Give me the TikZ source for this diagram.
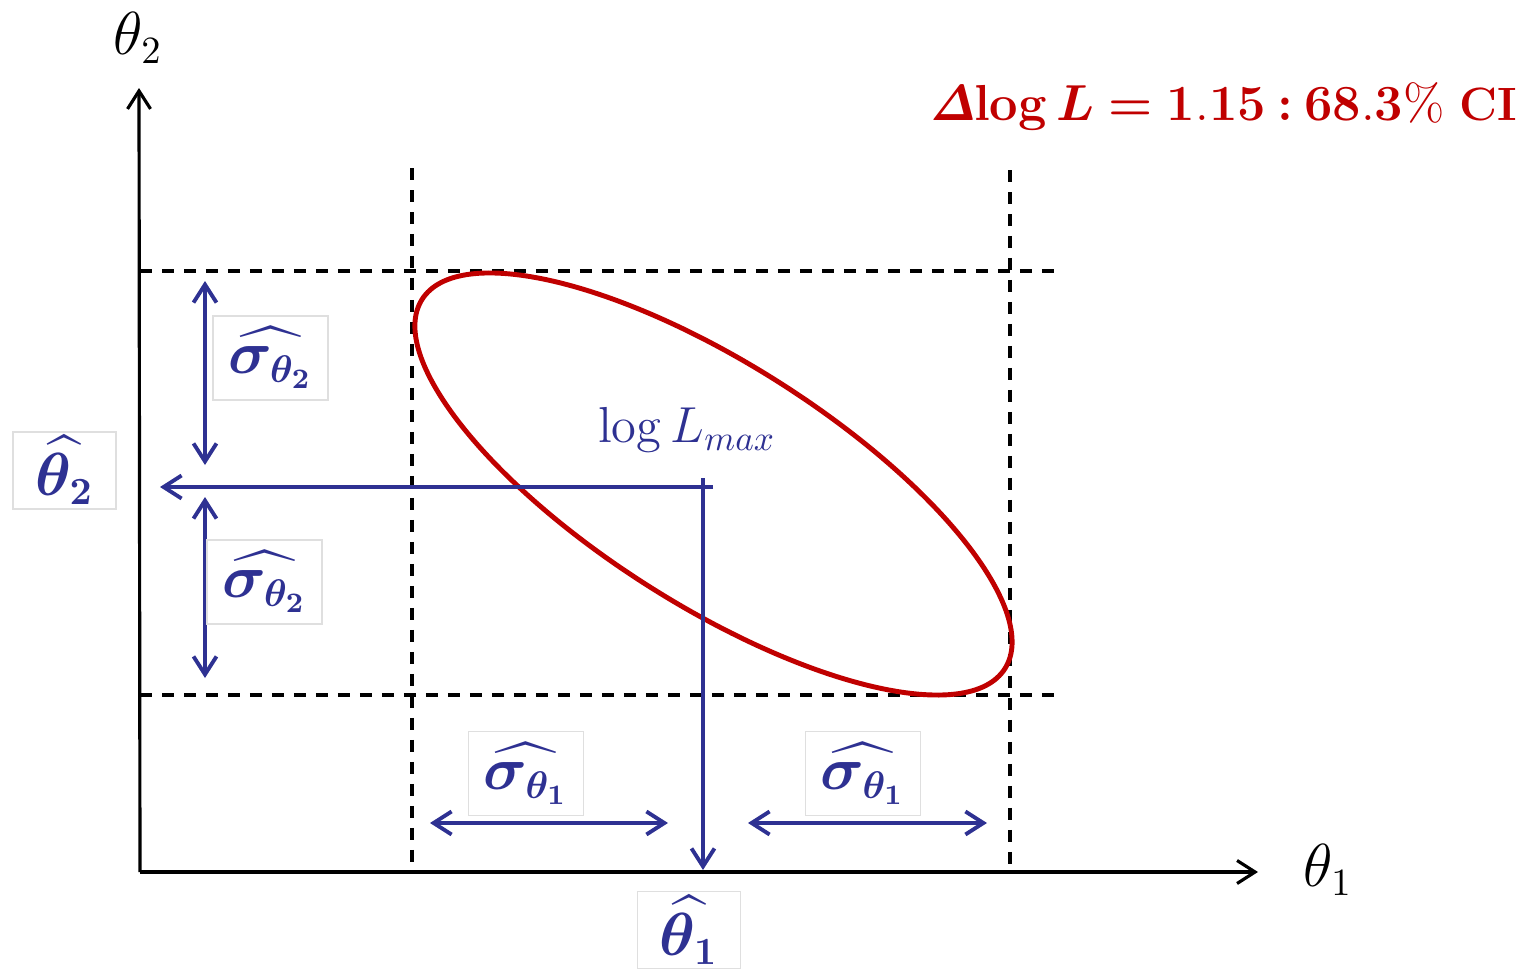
\documentclass[tikz,border=0pt]{standalone}
\usepackage{amsmath}
\usepackage{bm}
\usetikzlibrary{arrows.meta}

\definecolor{navy}{RGB}{46,49,146}
\definecolor{darkred}{RGB}{192,0,0}

\newcommand{\cilabel}{$\bm{\mathit{\Delta}}\mkern-1mu\mathbf{log}\,\bm{L} \bm{=} \mathbf{1.15}\mathbin{\bm{:}}\mathbf{68.3\%}$\ \textbf{CI}}

\tikzset{
  >={Straight Barb[length=1.8mm,width=2.3mm]},
  axis/.style={line width=0.9pt, ->},
  guide/.style={line width=1pt, dash pattern=on 1.2mm off 1mm},
  spread/.style={navy, line width=1.1pt, <->},
  proj/.style={navy, line width=1.1pt, ->},
  estbox/.style={draw=gray!25, line width=0.4pt, text=navy, inner sep=0pt,
    font=\fontsize{16}{18}\selectfont},
  sigbox/.style={estbox, minimum width=11.5mm, minimum height=8.4mm},
  hatbox/.style={estbox, minimum width=10.3mm, minimum height=7.7mm},
  axlabel/.style={font=\fontsize{16}{18}\selectfont}
}

\begin{document}
\begin{tikzpicture}[x=0.1mm, y=-0.1mm]
  \useasboundingbox (0,0) rectangle (1536,969);

  % axes
  \coordinate (origin) at (140,872);
  \coordinate (xend) at (1258,872);
  \coordinate (yend) at (139,88);
  \draw[axis] (origin) -- (xend);
  \draw[axis] (origin) -- (yend);
  \node[axlabel] (xlab) at (1328,870) {$\theta_1$};
  \node[axlabel] (ylab) at (138,38) {$\theta_2$};

  % confidence limits
  \draw[guide] (412,168) -- (412,872);
  \draw[guide] (1010,170) -- (1010,872);
  \draw[guide] (140,271) -- (1062,271);
  \draw[guide] (140,695) -- (1062,695);

  % likelihood contour
  \coordinate (centre) at (713.5,484);
  \draw[darkred, line width=1.4pt, rotate around={-32.35:(centre)}]
    (centre) ellipse [x radius=345, y radius=121];

  % maximum and its projections
  \coordinate (peak) at (703,487);
  \coordinate (t2) at (160,487);
  \coordinate (t1) at (703,870);
  \draw[proj] ([xshift=1mm]peak) -- (t2);
  \draw[proj] ([yshift=0.9mm]peak) -- (t1);
  \node[text=navy, font=\fontsize{14}{16}\selectfont] (lmax) at (687,430) {$\log L_{max}$};

  % error bars
  \draw[spread] (205,281) -- (205,465);
  \draw[spread] (205,497) -- (205,678);
  \draw[spread] (430,823) -- (668,823);
  \draw[spread] (748,823) -- (987,823);

  % estimate labels
  \node[sigbox] (s2up) at (270.5,358) {$\widehat{\bm{\sigma_{\theta_2}}}$};
  \node[sigbox] (s2lo) at (264.5,582) {$\widehat{\bm{\sigma_{\theta_2}}}$};
  \node[sigbox] (s1le) at (526,773.5) {$\widehat{\bm{\sigma_{\theta_1}}}$};
  \node[sigbox] (s1ri) at (863,773.5) {$\widehat{\bm{\sigma_{\theta_1}}}$};
  \node[hatbox] (th2) at (64.5,470.5) {$\widehat{\bm{\theta_2}}$};
  \node[hatbox] (th1) at (689,930) {$\widehat{\bm{\theta_1}}$};

  % interval label
  \node[anchor=east, text=darkred, font=\fontsize{13.3}{15}\selectfont] (cinote) at (1530,106) {\cilabel};
\end{tikzpicture}
\end{document}
